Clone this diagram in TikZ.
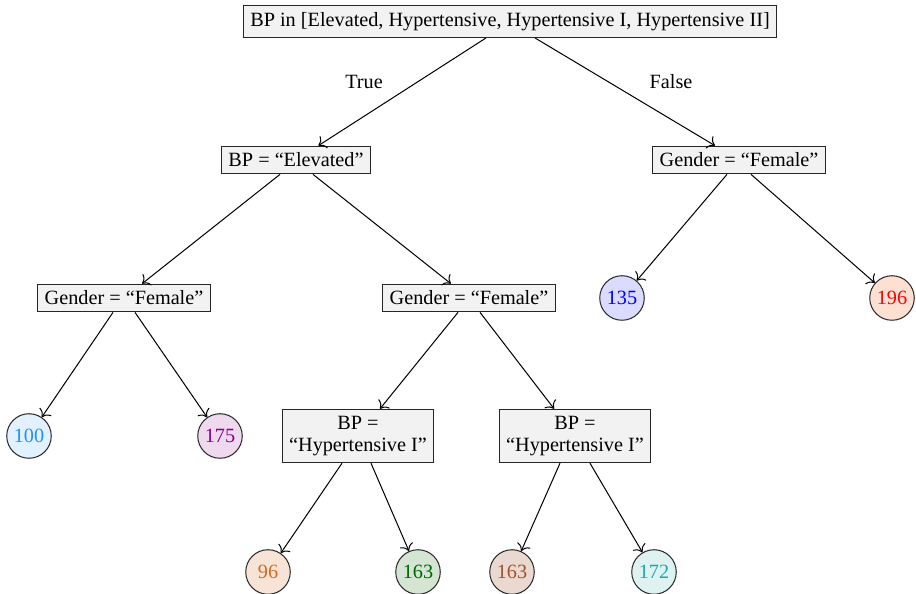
\documentclass[tikz,border=0pt]{standalone}
\usepackage{fontspec}
\setmainfont{Liberation Serif}
\usetikzlibrary{calc, arrows.meta}

\definecolor{cA}{HTML}{1E90FF}
\definecolor{cB}{HTML}{8B008B}
\definecolor{cC}{HTML}{D2691E}
\definecolor{cD}{HTML}{006400}
\definecolor{cE}{HTML}{A0522D}
\definecolor{cF}{HTML}{20A8A8}
\definecolor{cG}{HTML}{0000FF}
\definecolor{cH}{HTML}{FF0000}
\definecolor{fH}{HTML}{FDE0D2}

\begin{document}
\begin{tikzpicture}[x=0.494pt, y=-0.494pt, line width=0.5pt, >={To[scale=1.25]},
    test/.style={draw=black!85, fill=black!5, align=center, font=\fontsize{10}{11}\selectfont},
    leaf/.style={circle, draw=black!85, minimum size=22pt, inner sep=0pt, font=\fontsize{10}{11}\selectfont}]
    \useasboundingbox (0,0) rectangle (916,594);

    % tests
    \node[test] (root) at (510,21.5) {BP in [Elevated, Hypertensive, Hypertensive I, Hypertensive II]};
    \node[test] (elev) at (296,160) {BP = ``Elevated''};
    \node[test] (genR) at (739,160) {Gender = ``Female''};
    \node[test] (genL) at (124,298) {Gender = ``Female''};
    \node[test] (genM) at (469,298) {Gender = ``Female''};
    \node[test] (hypL) at (358,436) {BP =\\``Hypertensive I''};
    \node[test] (hypR) at (575,436) {BP =\\``Hypertensive I''};

    % leaves
    \node[leaf, fill=cG!14, text=cG] (n135) at (622,298) {135};
    \node[leaf, fill=fH, text=cH] (n196) at (892,298) {196};
    \node[leaf, fill=cA!13, text=cA] (n100) at (29,436) {100};
    \node[leaf, fill=cB!15, text=cB] (n175) at (220,436) {175};
    \node[leaf, fill=cC!18, text=cC] (n96) at (268,572) {96};
    \node[leaf, fill=cD!17, text=cD] (n163a) at (418,572) {163};
    \node[leaf, fill=cE!22, text=cE] (n163b) at (512,572) {163};
    \node[leaf, fill=cF!15, text=cF] (n172) at (654,572) {172};

    \node at (364,82) {True};
    \node at (671,82) {False};

    \draw[->] ($(root.south)+(-24,0)$) -- (elev);
    \draw[->] ($(root.south)+(25,0)$) -- (genR);
    \draw[->] ($(elev.south)+(-16,0)$) -- (genL);
    \draw[->] ($(elev.south)+(17,0)$) -- (genM);
    \draw[->] ($(genR.south)+(-12,0)$) -- (n135);
    \draw[->] ($(genR.south)+(12,0)$) -- (n196);
    \draw[->] ($(genL.south)+(-11,0)$) -- (n100);
    \draw[->] ($(genL.south)+(11,0)$) -- (n175);
    \draw[->] ($(genM.south)+(-11,0)$) -- (hypL);
    \draw[->] ($(genM.south)+(11,0)$) -- (hypR);
    \draw[->] ($(hypL.south)+(-16,0)$) -- (n96);
    \draw[->] ($(hypL.south)+(13,0)$) -- (n163a);
    \draw[->] ($(hypR.south)+(-15,0)$) -- (n163b);
    \draw[->] ($(hypR.south)+(15,0)$) -- (n172);
\end{tikzpicture}
\end{document}
